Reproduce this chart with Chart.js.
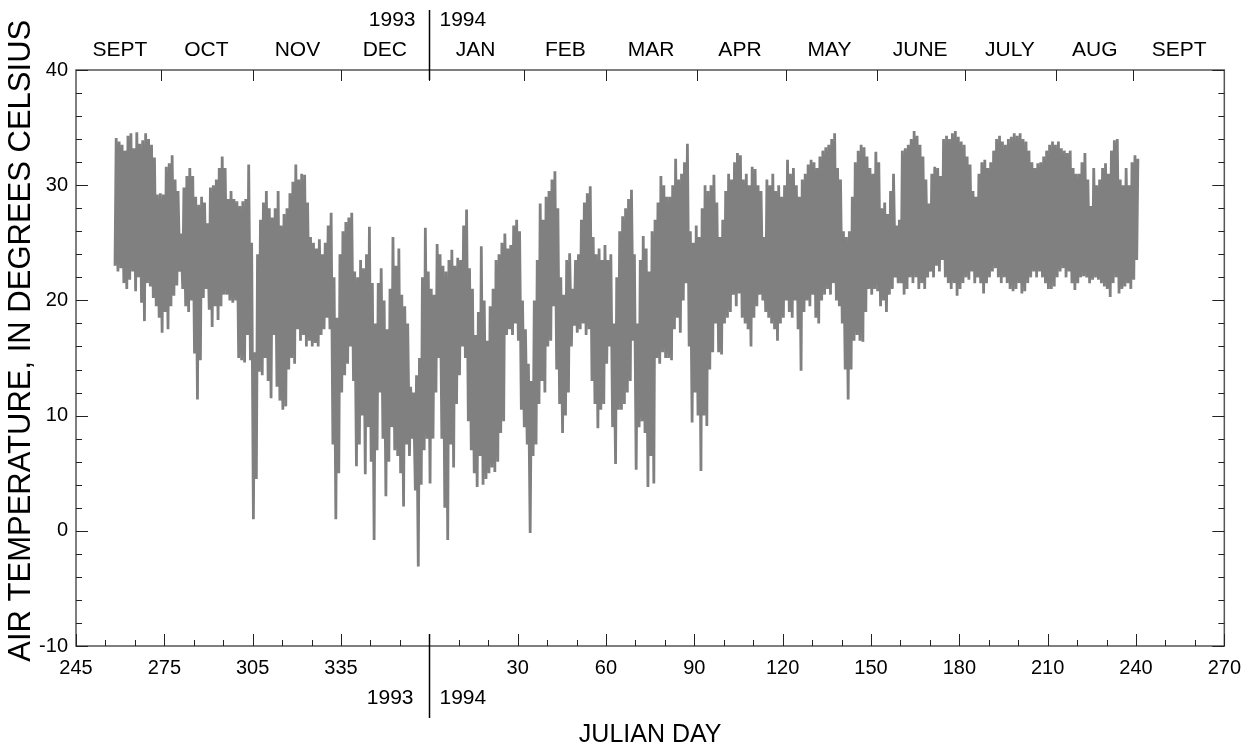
<!DOCTYPE html>
<html>
<head>
<meta charset="utf-8">
<script src="https://cdn.jsdelivr.net/npm/chart.js@4.4.0/dist/chart.umd.min.js"></script>
<style>
  html, body { margin: 0; padding: 0; background: #fff; }
  #chart { display: block; }
</style>
</head>
<body>
<canvas id="chart" width="1251" height="750"></canvas>
<script>
// Air temperature, one low and one high per day
// 1993 starts at julian day 258, 1994 runs from day 1 to day 240
const firstDay1993 = 258;
const yearBreak = 365;

const highs1993 = [
    34.1, 33.8, 33.5, 33.0, 34.3, 34.5, 33.2, 34.6, 33.6, 33.9,
    34.5, 34.0, 33.5, 32.4, 29.2, 29.3, 29.2, 31.6, 31.9, 32.6,
    30.5, 29.5, 25.8, 29.8, 30.8, 31.5, 30.8, 29.0, 28.3, 29.0,
    28.5, 26.7, 29.8, 30.0, 30.5, 31.5, 32.5, 31.5, 28.8, 29.5,
    28.8, 28.6, 28.2, 28.6, 28.8, 31.8, 25.0, 15.5, 24.0, 27.0,
    28.5, 29.5, 28.0, 27.2, 28.0, 29.5, 26.5, 27.5, 28.0, 29.3,
    30.3, 31.8, 30.5,
    31.0, 30.9, 28.5, 25.5, 25.0, 24.5, 25.3, 24.0, 25.0, 26.5,
    27.6, 22.0, 18.5, 24.0, 26.0, 26.8, 27.2, 27.6, 22.5, 22.0,
    23.5, 22.8, 24.0, 26.4, 21.5, 18.0, 21.5, 22.8, 20.0, 17.5,
    21.0, 25.5, 23.0, 24.5, 20.5, 19.5, 18.0, 12.5, 12.0, 13.5,
    15.0, 22.0, 26.3, 22.5, 21.0
];
const lows1993 = [
    23.0, 22.5, 22.8, 21.5, 21.0, 21.8, 22.5, 20.8, 22.0, 19.8,
    18.2, 21.5, 21.2, 20.2, 19.5, 18.5, 17.2, 19.0, 17.5, 19.5,
    20.4, 21.3, 22.5, 21.0, 19.5, 19.0, 20.0, 15.4, 11.4, 14.8,
    20.2, 21.0, 19.2, 17.7, 19.5, 18.3, 19.5, 20.5, 20.5, 20.0,
    19.8, 20.0, 15.0, 14.8, 14.6, 17.0, 14.8, 1.0, 4.5, 13.8,
    13.5, 15.0, 13.0, 11.5, 17.0, 12.5, 11.3, 10.5, 10.8, 14.0,
    15.0, 14.5, 17.5,
    16.5, 17.0, 16.0, 16.5, 16.0, 16.3, 16.0, 17.0, 17.5, 18.5,
    17.5, 7.5, 1.0, 5.0, 12.0, 13.5, 14.5, 16.0, 13.0, 5.6,
    7.5, 10.0, 4.9, 9.0, 6.0, -0.8, 7.0, 12.0, 8.0, 3.0,
    6.0, 9.0, 7.0, 6.5, 5.0, 2.1, 7.5, 6.5, 8.0, 3.5,
    -3.1, 4.0, 7.0, 8.0, 4.1
];
const highs1994 = [
    20.5, 24.9, 24.0, 23.0, 22.5, 23.5, 24.4, 23.0, 23.7, 23.5,
    26.5, 27.9, 22.8, 21.0, 17.0, 19.0, 24.7, 20.0, 16.5, 19.5,
    21.0, 23.5, 24.0, 25.0, 25.8, 24.5, 24.8, 26.5, 27.0, 26.0,
    20.0, 17.5, 14.5, 13.0, 20.0, 23.5, 28.4, 27.0, 29.0, 29.5,
    30.5, 31.2, 28.0, 22.0, 20.5, 23.5, 24.1, 21.0, 23.5, 24.0,
    27.0, 28.5, 29.3, 29.9, 25.5, 24.0, 24.5, 23.5, 24.8, 23.5,
    24.0, 18.0, 22.0, 26.0, 27.3, 28.0, 28.8, 29.6, 24.0, 18.0,
    23.5, 25.6, 24.5, 22.5, 26.0, 27.0, 28.5, 30.8, 30.0, 29.0,
    29.0, 30.0, 32.3, 30.5,
    31.0, 32.0, 33.6, 26.0, 25.0, 26.5, 25.5, 28.0, 30.0, 29.5,
    30.0, 30.9, 28.5, 25.5, 27.0, 29.5, 31.0, 30.5, 32.0, 32.8,
    32.6, 30.5, 31.0, 30.0, 31.6, 31.4, 30.0, 29.5, 25.5, 30.5,
    30.0, 31.0, 29.5, 30.0, 29.0, 30.0, 32.2, 31.0, 31.5, 30.0,
    29.0, 30.5, 31.0, 31.8, 32.2, 32.0, 31.5, 32.5, 33.0, 33.3,
    33.5, 34.0, 34.5, 31.5, 30.5, 26.0, 25.5, 26.0, 29.0, 32.0,
    33.0, 33.5, 33.3, 32.5,
    31.5, 31.0, 32.9, 32.0, 28.0, 28.5, 27.5, 29.5, 31.0, 26.5,
    27.0, 33.0, 33.2, 33.5, 34.0, 34.7, 34.3, 33.5, 32.5, 30.5,
    28.4, 31.0, 31.6, 31.5, 30.8, 34.0, 34.3, 34.0, 34.5, 34.7,
    34.2, 33.8, 33.5, 32.5, 31.8, 29.5, 29.0, 31.0, 32.0, 32.2,
    31.5, 32.0, 33.0, 34.0, 34.3, 33.8, 33.5, 34.0, 34.2, 34.5,
    34.3, 34.5, 34.0, 33.8, 33.0, 32.0, 31.5, 31.9, 32.0, 32.5,
    33.0, 33.5, 33.8, 33.5,
    33.8, 33.2, 33.0, 32.8, 33.0, 31.5, 31.0, 31.0, 32.0, 32.8,
    30.5, 28.2, 31.5, 30.0, 30.5, 31.5, 31.9, 31.0, 33.0, 33.9,
    34.0, 30.5, 30.0, 31.5, 30.0, 32.0, 32.6, 32.3
];
const lows1994 = [
    8.0, 12.0, 15.0, 8.0, 2.0, -0.8, 7.5, 5.5, 11.0, 13.5,
    16.0, 15.0, 9.5, 7.0, 5.0, 3.8, 6.5, 4.0, 4.5, 5.0,
    5.5, 5.1, 6.0, 8.5, 9.5, 17.0, 17.5, 17.0, 18.0, 16.5,
    10.5, 9.0, 7.5, -0.2, 6.5, 7.5, 11.0, 13.0, 12.0, 16.0,
    16.5, 19.5, 14.0, 11.0, 8.5, 10.0, 12.0, 16.0, 17.8, 17.2,
    17.5, 18.0, 17.0, 17.5, 13.0, 11.0, 8.9, 10.5, 11.0, 14.5,
    16.0, 9.0, 5.8, 10.5, 10.5, 11.0, 12.0, 13.0, 16.5, 5.3,
    9.0, 9.5, 8.5, 3.8, 6.5, 4.1, 15.0, 14.5, 15.5, 15.0,
    15.0, 14.8, 17.5, 18.5,
    17.2, 20.0, 21.5, 16.0, 9.4, 12.0, 10.0, 5.2, 10.0, 9.1,
    14.0, 15.5, 18.0, 15.5, 15.3, 18.0, 18.5, 19.0, 20.5, 19.5,
    20.6, 18.5, 18.0, 17.5, 16.0, 18.5, 19.5, 20.5, 20.0, 19.0,
    18.5, 18.0, 17.5, 16.5, 18.0, 18.5, 20.0, 19.0, 18.5, 20.0,
    17.5, 13.9, 19.0, 20.0, 19.5, 20.5, 18.5, 18.0, 20.0, 20.5,
    21.0, 20.5, 21.5, 20.0, 19.5, 18.0, 14.0, 11.4, 14.0, 16.5,
    17.0, 16.5, 16.4, 19.0,
    21.0, 20.5, 21.0, 20.8, 19.5, 20.0, 19.0, 20.5, 21.0, 22.0,
    21.5, 21.5, 20.5, 21.0, 22.0, 21.5, 22.0, 21.0, 21.5, 21.0,
    22.0, 22.5, 22.0, 23.0, 22.5, 23.5, 22.0, 21.5, 21.0, 21.5,
    20.4, 21.0, 21.5, 22.0, 21.8, 22.5, 21.5, 22.0, 21.5, 20.6,
    21.5, 22.0, 22.5, 22.8, 22.0, 21.5, 22.0, 21.5, 21.0, 20.8,
    21.0, 21.5, 20.6, 20.8, 21.5, 22.0, 22.5, 22.0, 22.5, 22.0,
    21.5, 21.0, 21.0, 21.2,
    22.0, 22.5, 22.8, 22.0, 22.5, 21.5, 20.9, 21.5, 22.0, 22.1,
    22.0, 21.5, 21.8, 22.0, 21.8, 21.5, 21.2, 21.0, 20.3, 21.5,
    22.0, 20.6, 21.0, 21.2, 21.5, 21.0, 21.8, 23.5
];

// Bottom axis: continuous day count, 1994 days are shown minus 365
const xTickValues = [245, 275, 305, 335, 365, 395, 425, 455, 485, 515, 545, 575, 605, 635];
// Top axis: month names centred in each month, ticks at month starts
const monthNames = ['SEPT', 'OCT', 'NOV', 'DEC', 'JAN', 'FEB', 'MAR', 'APR', 'MAY', 'JUNE', 'JULY', 'AUG', 'SEPT'];
const monthCenters = [259.9, 289.3, 320.2, 349.9, 380.7, 411.2, 440.3, 470.5, 500.9, 531.7, 562.2, 591.0, 619.7];
const monthStarts = [274, 305, 335, 365, 397, 425, 456, 486, 517, 547, 578, 604];

const FONT = '"Liberation Sans", Arial, Helvetica, sans-serif';

/**
 * Low in the early morning, high in the afternoon of every day
 */
function buildPoints() {
    const pts = [];
    function addDays(highs, lows, start) {
        for (let i = 0; i < highs.length; i++) {
            pts.push({ x: start + i + 0.25, y: lows[i] });
            pts.push({ x: start + i + 0.65, y: highs[i] });
        }
    }
    addDays(highs1993, lows1993, firstDay1993);
    addDays(highs1994, lows1994, yearBreak + 1);
    return pts;
}

// Frame, inward ticks and the 1993 | 1994 divider
const frameTicks = {
    id: 'frameTicks',
    afterDraw(chart) {
        const { ctx, chartArea: a, scales } = chart;
        const x = scales.x;
        const y = scales.y;
        ctx.save();

        ctx.strokeStyle = '#555';
        ctx.lineWidth = 1.5;
        ctx.strokeRect(a.left, a.top, a.right - a.left, a.bottom - a.top);

        ctx.strokeStyle = '#222';
        ctx.lineWidth = 1;
        ctx.beginPath();
        for (let v = -10; v <= 40; v += 2) {
            const py = Math.round(y.getPixelForValue(v)) + 0.5;
            const len = v % 10 === 0 ? 12 : 6;
            ctx.moveTo(a.left, py); ctx.lineTo(a.left + len, py);
            ctx.moveTo(a.right, py); ctx.lineTo(a.right - len, py);
        }
        for (let v = 245; v <= 635; v += 10) {
            const px = Math.round(x.getPixelForValue(v)) + 0.5;
            const len = (v - 245) % 30 === 0 ? 12 : 6;
            ctx.moveTo(px, a.bottom); ctx.lineTo(px, a.bottom - len);
        }
        monthStarts.forEach(v => {
            const px = Math.round(x.getPixelForValue(v)) + 0.5;
            ctx.moveTo(px, a.top); ctx.lineTo(px, a.top + 11);
        });
        ctx.stroke();

        const bx = Math.round(x.getPixelForValue(yearBreak)) + 0.5;
        ctx.strokeStyle = '#000';
        ctx.lineWidth = 1.5;
        ctx.beginPath();
        ctx.moveTo(bx, 10); ctx.lineTo(bx, a.top + 10);
        ctx.moveTo(bx, a.bottom - 12); ctx.lineTo(bx, a.bottom + 72);
        ctx.stroke();

        ctx.fillStyle = '#000';
        ctx.font = '21px ' + FONT;
        ctx.textBaseline = 'middle';
        ctx.textAlign = 'right';
        ctx.fillText('1993', bx - 14, 20);
        ctx.fillText('1993', bx - 16, a.bottom + 52);
        ctx.textAlign = 'left';
        ctx.fillText('1994', bx + 10, 20);
        ctx.fillText('1994', bx + 10, a.bottom + 52);
        ctx.restore();
    }
};

const ctx = document.getElementById('chart').getContext('2d');
new Chart(ctx, {
    type: 'line',
    data: {
        datasets: [{
            data: buildPoints(),
            borderColor: '#808080',
            borderWidth: 2.8,
            pointRadius: 0,
            tension: 0,
            fill: false,
            xAxisID: 'x',
            yAxisID: 'y'
        }]
    },
    options: {
        responsive: false,
        animation: false,
        devicePixelRatio: 1,
        parsing: false,
        events: [],
        layout: { padding: { left: 0, right: 23, top: 0, bottom: 0 } },
        plugins: {
            legend: { display: false },
            tooltip: { enabled: false }
        },
        scales: {
            x: {
                type: 'linear',
                position: 'bottom',
                min: 245,
                max: 635,
                afterBuildTicks: s => { s.ticks = xTickValues.map(v => ({ value: v })); },
                afterFit: s => { s.height = 104; },
                grid: { display: false, drawTicks: false },
                border: { display: false },
                ticks: {
                    autoSkip: false,
                    maxRotation: 0,
                    padding: 10,
                    color: '#000',
                    font: { family: FONT, size: 20 },
                    callback: v => v === yearBreak ? '' : (v > yearBreak ? v - yearBreak : v)
                },
                title: {
                    display: true,
                    text: 'JULIAN DAY',
                    color: '#000',
                    font: { family: FONT, size: 25 },
                    padding: 0
                }
            },
            xTop: {
                type: 'linear',
                position: 'top',
                min: 245,
                max: 635,
                afterBuildTicks: s => { s.ticks = monthCenters.map(v => ({ value: v })); },
                afterFit: s => { s.height = 70; },
                grid: { display: false, drawTicks: false },
                border: { display: false },
                ticks: {
                    autoSkip: false,
                    maxRotation: 0,
                    padding: 7,
                    color: '#000',
                    font: { family: FONT, size: 21 },
                    callback: (v, i) => monthNames[i]
                }
            },
            y: {
                min: -10,
                max: 40,
                afterFit: s => { s.width = 76; },
                grid: { display: false, drawTicks: false },
                border: { display: false },
                ticks: {
                    stepSize: 10,
                    padding: 8,
                    color: '#000',
                    font: { family: FONT, size: 20 }
                },
                title: {
                    display: true,
                    // leading spaces nudge the centred title up a little, as in the original
                    text: '    AIR TEMPERATURE, IN DEGREES CELSIUS',
                    color: '#000',
                    font: { family: FONT, size: 31 },
                    padding: { top: 3, bottom: 0 }
                }
            }
        }
    },
    plugins: [frameTicks]
});
</script>
</body>
</html>
